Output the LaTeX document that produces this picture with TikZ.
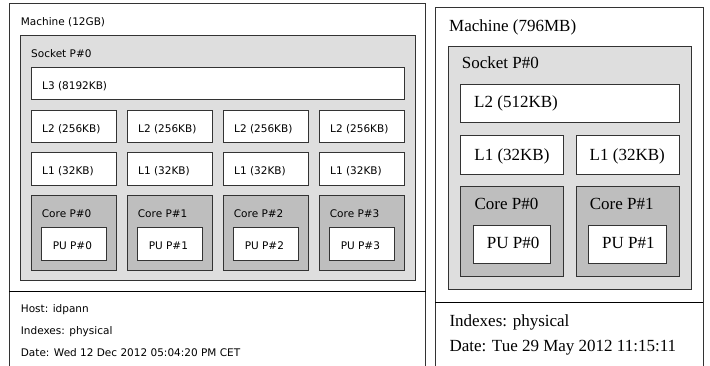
\documentclass[tikz,border=0pt]{standalone}
\usepackage{fontspec}
\setmainfont{Liberation Serif}
\newfontfamily\dejavu{DejaVu Sans}
\definecolor{socketfill}{RGB}{222,222,222}
\definecolor{corefill}{RGB}{190,190,190}
\tikzset{
	box/.style={draw=black!80, line width=0.8pt},
	cachebox/.style={box, fill=white},
	socketbox/.style={box, fill=socketfill},
	corebox/.style={box, fill=corefill},
	sansText/.style={anchor=base west, inner sep=0pt, font=\dejavu\fontsize{10.5}{12}\selectfont},
	serifText/.style={anchor=base west, inner sep=0pt, font=\fontsize{17}{20}\selectfont},
}
\begin{document}
\begin{tikzpicture}[x=1pt, y=-1pt]
		\useasboundingbox (0,0) rectangle (710,365);
		
		% left machine
		\coordinate (A1) at (9.3, 3);
		\coordinate (A2) at (425.7, 3);
		\draw [box] (A1) -- (9.3, 372) (A1) -- (A2) -- (425.7, 372);
		\draw [line width=1pt] (9.3, 291.7) -- (425.7, 291.7);
		\node [sansText] (mach1) at (20.7, 25.7) {Machine (12GB)};
		
		\draw [socketbox] (20.7, 35) rectangle (415, 280.7);
		\node [sansText] (sock1) at (31, 57.3) {Socket P\#0};
		\draw [cachebox] (31, 67.7) rectangle (404, 99.3);
		\node [sansText] (l3) at (42, 89.5) {L3 (8192KB)};
		
		\foreach \i in {0,...,3} {
			\pgfmathsetmacro{\xa}{31+96*\i}
			\draw [cachebox] (\xa, 110) rectangle ++(85.5, 32.3);
			\node [sansText] (l2-\i) at (\xa+11, 132) {L2 (256KB)};
			\draw [cachebox] (\xa, 152.7) rectangle ++(85.5, 32.3);
			\node [sansText] (l1-\i) at (\xa+11, 174.5) {L1 (32KB)};
			\draw [corebox] (\xa, 195) rectangle ++(85.5, 75);
			\node [sansText] (core-\i) at (\xa+10.7, 217.7) {Core P\#\i};
			\draw [cachebox] (\xa+10.3, 227.7) rectangle ++(64.7, 32.3);
			\node [sansText] (pu-\i) at (\xa+21.6, 249.3) {PU P\#\i};
		}
		
		\node [sansText] (host1) at (20.7, 312.5) {Host: idpann};
		\node [sansText] (idx1) at (20.7, 334) {Indexes: physical};
		\node [sansText] (date1) at (20.7, 356) {Date: Wed 12 Dec 2012 05:04:20 PM CET};
		
		% right machine
		\coordinate (B1) at (435, 7.3);
		\coordinate (B2) at (703.3, 7.3);
		\draw [box] (B1) -- (435, 372) (B1) -- (B2) -- (703.3, 372);
		\draw [line width=1pt] (435, 302) -- (703.3, 302);
		\node [serifText] (mach2) at (449, 31.7) {Machine (796MB)};
		
		\draw [socketbox] (448.3, 46) rectangle (691.7, 289.3);
		\node [serifText] (sock2) at (461.7, 68.3) {Socket P\#0};
		\draw [cachebox] (460.7, 84.3) rectangle (679, 122.7);
		\node [serifText] (l2) at (474, 107.5) {L2 (512KB)};
		
		\foreach \i in {0,1} {
			\pgfmathsetmacro{\xb}{460.7+115.3*\i}
			\draw [cachebox] (\xb, 135.7) rectangle ++(103, 38.3);
			\node [serifText] (l1r-\i) at (\xb+13.5, 160.7) {L1 (32KB)};
			\draw [corebox] (\xb, 186.7) rectangle ++(103, 90);
			\node [serifText] (corer-\i) at (\xb+13.6, 209.3) {Core P\#\i};
			\draw [cachebox] (\xb+12.6, 225) rectangle ++(77.4, 38.3);
			\node [serifText] (pur-\i) at (\xb+26, 248.3) {PU P\#\i};
		}
		
		\node [serifText] (idx2) at (449.3, 326) {Indexes: physical};
		\node [serifText] (date2) at (449.3, 351.7) {Date: Tue 29 May 2012 11:15:11};
	\end{tikzpicture}
\end{document}
